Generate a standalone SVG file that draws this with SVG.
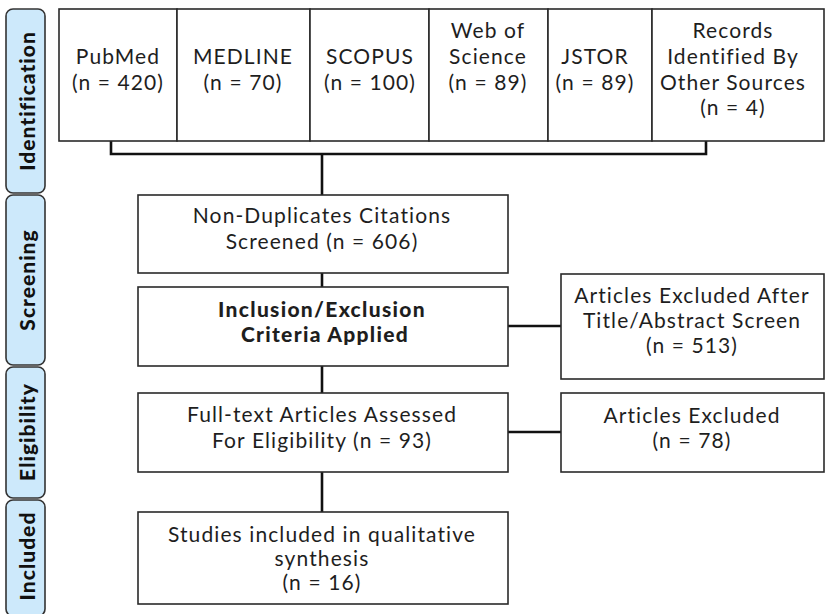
<svg xmlns="http://www.w3.org/2000/svg" width="825" height="614" viewBox="0 0 825 614">
<style>
.bg{fill:#fff}
.box{fill:#fff;stroke:#2a2a2a;stroke-width:1.6}
.tab{fill:#cde9fb;stroke:#333;stroke-width:1.6}
.t{font-family:Lato,"Open Sans","Liberation Sans",sans-serif;font-size:21px;letter-spacing:1.1px;fill:#1e1e1e;text-anchor:middle}
.b{font-weight:900;letter-spacing:1.3px}
.tl{font-family:Lato,"Open Sans","Liberation Sans",sans-serif;font-size:21px;font-weight:900;letter-spacing:1px;fill:#111;text-anchor:middle;dominant-baseline:central}
.c{fill:none;stroke:#111;stroke-width:2.6}
</style>
<rect class="bg" x="0" y="0" width="825" height="614"/>
<g id="tabs">
<g id="tab-identification"><rect class="tab" x="6" y="9" width="39" height="184" rx="7"/><text class="tl" transform="translate(26,101) rotate(-90)">Identification</text></g>
<g id="tab-screening"><rect class="tab" x="6" y="195" width="39" height="170" rx="7"/><text class="tl" transform="translate(26,280) rotate(-90)">Screening</text></g>
<g id="tab-eligibility"><rect class="tab" x="6" y="367" width="39" height="131" rx="7"/><text class="tl" transform="translate(26,432) rotate(-90)">Eligibility</text></g>
<g id="tab-included"><rect class="tab" x="6" y="500" width="39" height="116" rx="7"/><text class="tl" transform="translate(26,556) rotate(-90)">Included</text></g>
</g>
<g id="connectors">
<path class="c" d="M111,141 V154 H706 V141"/>
<path class="c" d="M322,154 V195"/>
<path class="c" d="M322,273 V287"/>
<path class="c" d="M322,366 V393"/>
<path class="c" d="M322,472 V512"/>
<path class="c" d="M508,326 H561"/>
<path class="c" d="M508,432 H561"/>
</g>
<g id="pubmed"><rect class="box" x="59" y="9" width="118" height="132"/><text class="t" x="118" y="64">PubMed</text><text class="t" x="118" y="90">(n = 420)</text></g>
<g id="medline"><rect class="box" x="177" y="9" width="133" height="132"/><text class="t" x="243" y="64">MEDLINE</text><text class="t" x="243" y="90">(n = 70)</text></g>
<g id="scopus"><rect class="box" x="310" y="9" width="119" height="132"/><text class="t" x="370" y="64">SCOPUS</text><text class="t" x="370" y="90">(n = 100)</text></g>
<g id="wos"><rect class="box" x="429" y="9" width="119" height="132"/><text class="t" x="488" y="38">Web of</text><text class="t" x="488" y="64">Science</text><text class="t" x="488" y="90">(n = 89)</text></g>
<g id="jstor"><rect class="box" x="548" y="9" width="104" height="132"/><text class="t" x="595" y="64">JSTOR</text><text class="t" x="595" y="90">(n = 89)</text></g>
<g id="other"><rect class="box" x="652" y="9" width="172" height="132"/><text class="t" x="733" y="38">Records</text><text class="t" x="733" y="64">Identified By</text><text class="t" x="733" y="90">Other Sources</text><text class="t" x="733" y="115">(n = 4)</text></g>
<g id="nondup"><rect class="box" x="138" y="195" width="370" height="78"/><text class="t" x="322" y="223">Non-Duplicates Citations</text><text class="t" x="322" y="249">Screened (n = 606)</text></g>
<g id="criteria"><rect class="box" x="138" y="287" width="370" height="79"/><text class="t b" x="322" y="317">Inclusion/Exclusion</text><text class="t b" x="325" y="342">Criteria Applied</text></g>
<g id="excluded1"><rect class="box" x="561" y="274" width="263" height="105"/><text class="t" x="692" y="303">Articles Excluded After</text><text class="t" x="692" y="328">Title/Abstract Screen</text><text class="t" x="692" y="353">(n = 513)</text></g>
<g id="fulltext"><rect class="box" x="138" y="393" width="370" height="79"/><text class="t" x="322" y="422">Full-text Articles Assessed</text><text class="t" x="322" y="448">For Eligibility (n = 93)</text></g>
<g id="excluded2"><rect class="box" x="561" y="393" width="263" height="79"/><text class="t" x="692" y="423">Articles Excluded</text><text class="t" x="692" y="448">(n = 78)</text></g>
<g id="included"><rect class="box" x="138" y="512" width="370" height="92"/><text class="t" x="322" y="542">Studies included in qualitative</text><text class="t" x="322" y="566">synthesis</text><text class="t" x="322" y="590">(n = 16)</text></g>
</svg>
